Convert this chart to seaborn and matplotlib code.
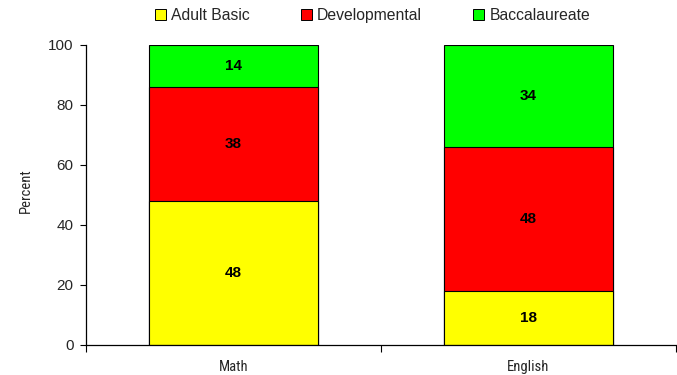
import numpy as np
import pandas as pd
import matplotlib
matplotlib.use("Agg")
import matplotlib.pyplot as plt
from matplotlib import font_manager
import seaborn as sns
from matplotlib.patches import Patch

subjects = ["Math", "English"]
adult_basic = [48, 18]
developmental = [38, 48]
baccalaureate = [14, 34]
series_names = ["Adult Basic", "Developmental", "Baccalaureate"]
series_colors = ["#FFFF00", "#FF0000", "#00FF00"]

sns.set_theme(style="white")
plt.rcParams["font.family"] = ["Liberation Sans", "DejaVu Sans"]

# a condensed face for the small axis captions, if one is installed
installed = {f.name for f in font_manager.fontManager.ttflist}
narrow = None
for cand in ["Liberation Sans Narrow", "Arial Narrow", "Roboto Condensed",
             "Open Sans Condensed", "DejaVu Sans Condensed"]:
    if cand in installed:
        narrow = cand
        break
cap_kw = {"family": [narrow, "DejaVu Sans"], "fontsize": 10.5} if narrow else {"fontsize": 9}

layers = [adult_basic, developmental, baccalaureate]
cum = np.cumsum(np.array(layers), axis=0)

fig = plt.figure(figsize=(6.77, 3.75), dpi=100)
ax = fig.add_axes([0.127, 0.08, 0.8715, 0.80])

# draw stacked bars top-down so each lower segment covers the one above
for i in range(len(layers) - 1, -1, -1):
    df = pd.DataFrame({"subject": subjects, "top": cum[i]})
    sns.barplot(data=df, x="subject", y="top", color=series_colors[i],
                saturation=1, width=0.57, edgecolor="black", linewidth=0.8,
                ax=ax, zorder=2)

# segment value labels
for j in range(len(subjects)):
    base = 0
    for i, vals in enumerate(layers):
        ax.text(j, base + vals[j] / 2, f"{vals[j]}", ha="center", va="center",
                fontsize=11, fontweight="bold", color="black", zorder=5)
        base += vals[j]

ax.set_xlim(-0.5, 1.5)
ax.set_ylim(0, 100)
ax.set_yticks(range(0, 101, 20))
ax.set_xticks([0, 1])
ax.set_xticklabels(subjects, **cap_kw)
ax.set_xticks([-0.5, 0.5, 1.5], minor=True)
ax.tick_params(axis="x", which="major", length=0, pad=11)
ax.tick_params(axis="x", which="minor", bottom=True, length=5, width=0.8, color="black", direction="out")
ax.tick_params(axis="y", left=True, length=4, width=0.8, color="black", direction="out",
               labelsize=11, pad=5)
ax.set_xlabel("")
ax.set_ylabel("Percent", **cap_kw)
ax.yaxis.set_label_coords(-0.09, 0.515)

for side in ["top", "right"]:
    ax.spines[side].set_visible(False)
for side in ["left", "bottom"]:
    ax.spines[side].set_color("black")
    ax.spines[side].set_linewidth(0.9)

handles = [Patch(facecolor=c, edgecolor="black", linewidth=0.7) for c in series_colors]
fig.legend(handles, series_names, loc="center left", bbox_to_anchor=(0.229, 0.958),
           ncol=3, frameon=False, fontsize=11.3, handlelength=0.7, handleheight=0.65,
           handletextpad=0.33, columnspacing=3.25, borderpad=0, borderaxespad=0)

fig.savefig("out.png", dpi=100)
